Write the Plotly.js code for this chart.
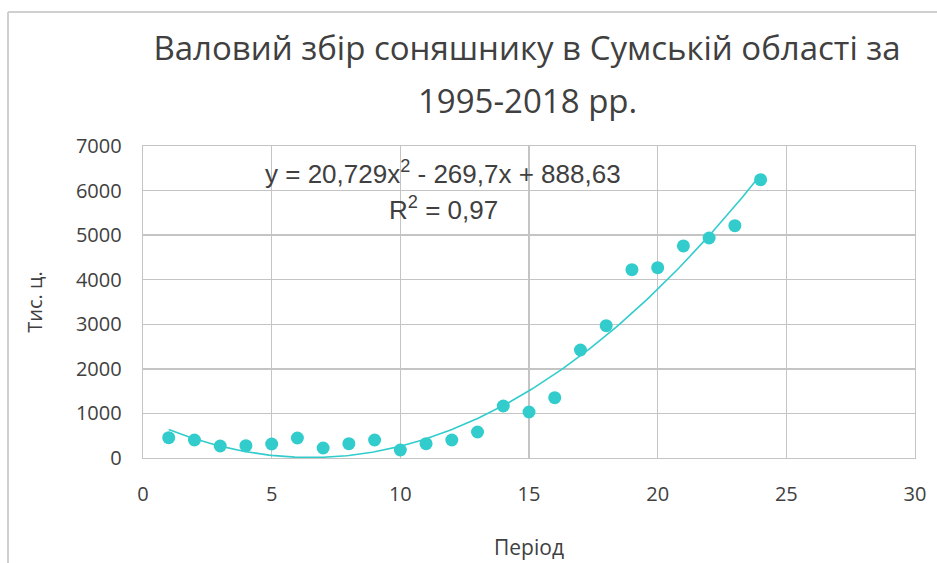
<!DOCTYPE html>
<html><head><meta charset="utf-8">
<script src="https://cdn.plot.ly/plotly-3.0.1.min.js"></script>
<style>html,body{margin:0;padding:0;background:#fff}#chart{width:937px;height:563px}</style>
</head><body><div id="chart"></div>
<script>
const periods = [1,2,3,4,5,6,7,8,9,10,11,12,13,14,15,16,17,18,19,20,21,22,23,24];
const harvest = [455,404,269,276,314,449,224,321,404,180,321,404,583,1167,1032,1353,2423,2968,4225,4270,4757,4936,5212,6245];
const trendCoef = [20.729, -269.7, 888.63];
const xTicks = [0,5,10,15,20,25,30];
const yTicks = [0,1000,2000,3000,4000,5000,6000,7000];
const titleLines = ['Валовий збір соняшнику в Сумській області за', '1995-2018 рр.'];

const trendX = [], trendY = [];
for (let i = 0; i <= 230; i++) {
  const x = 1 + i * 0.1;
  trendX.push(x);
  trendY.push(Math.max(0, trendCoef[0]*x*x + trendCoef[1]*x + trendCoef[2]));
}
const col = 'rgb(51,204,204)';
const data = [
  {x: trendX, y: trendY, mode: 'lines', line: {color: col, width: 1.6}, hoverinfo: 'skip', showlegend: false},
  {x: periods, y: harvest, mode: 'markers', marker: {color: col, size: 13}, showlegend: false}
];
const gc = '#c4c4c4';
const tc = '#404040';
const px = v => (v - 143) / 772;
const py = v => (458 - v) / 312;
const layout = {
  width: 937, height: 563,
  margin: {l: 143, r: 22, t: 146, b: 105},
  paper_bgcolor: '#fff', plot_bgcolor: '#fff',
  font: {family: 'Open Sans, sans-serif', color: tc},
  title: {text: titleLines[0],
          font: {family: 'Open Sans', size: 33, color: tc},
          x: 527 / 937, xanchor: 'center', y: 1 - 48 / 563, yanchor: 'middle'},
  xaxis: {range: [0, 30], tickvals: xTicks, ticktext: xTicks.map(String), showgrid: true, gridcolor: gc, gridwidth: 1.3,
          zeroline: false, showline: true, linecolor: gc, linewidth: 1.3, mirror: true, ticks: '',
          tickfont: {size: 20, color: tc}, ticklabelstandoff: 18,
          title: {text: 'Період', font: {size: 21, color: tc}, standoff: 34}},
  yaxis: {range: [0, 7000], tickvals: yTicks, ticktext: yTicks.map(String), showgrid: true, gridcolor: gc, gridwidth: 1.3,
          zeroline: false, showline: true, linecolor: gc, linewidth: 1.3, mirror: true, ticks: '',
          tickfont: {size: 20, color: tc}, ticklabelstandoff: 16,
          title: {text: 'Тис. ц.', font: {size: 20, color: tc}, standoff: 28}},
  annotations: [
    {xref: 'paper', yref: 'paper', x: px(527), y: py(100), text: titleLines[1],
     showarrow: false, font: {family: 'Open Sans', size: 33, color: tc}, xanchor: 'center', yanchor: 'middle'},
    {xref: 'paper', yref: 'paper', x: px(443), y: py(172), text: 'y = 20,729x<sup>2</sup> - 269,7x + 888,63',
     showarrow: false, font: {family: 'Liberation Sans, Arial', size: 26, color: tc}, xanchor: 'center', yanchor: 'middle'},
    {xref: 'paper', yref: 'paper', x: px(443), y: py(208), text: 'R<sup>2</sup> = 0,97',
     showarrow: false, font: {family: 'Liberation Sans, Arial', size: 26, color: tc}, xanchor: 'center', yanchor: 'middle'}
  ],
  shapes: [
    {type: 'line', xref: 'paper', yref: 'paper', x0: px(8), x1: 1.2, y0: py(12), y1: py(12), line: {color: '#cfcfcf', width: 2}},
    {type: 'line', xref: 'paper', yref: 'paper', x0: px(8), x1: px(8), y0: py(12), y1: -0.5, line: {color: '#cfcfcf', width: 2}}
  ]
};
Plotly.newPlot('chart', data, layout, {displayModeBar: false, staticPlot: true});
</script></body></html>
